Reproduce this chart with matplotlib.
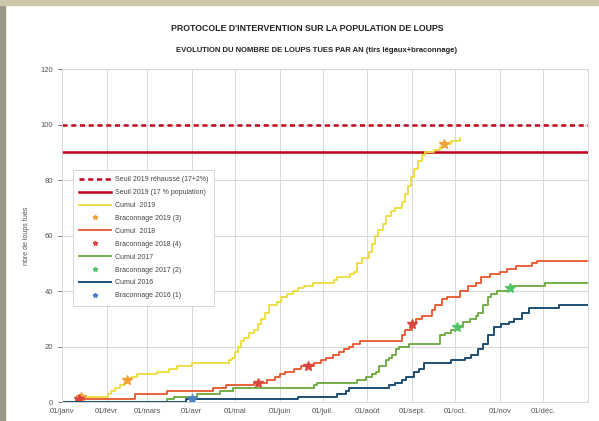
import matplotlib
matplotlib.use("Agg")
import matplotlib.pyplot as plt
from matplotlib.patches import Rectangle

plt.rcParams['font.family'] = ['Liberation Sans', 'DejaVu Sans']

# jours (0 = 1er janvier) et cumul de loups tués
jours_2019 = [0, 10, 32, 34, 37, 40, 43, 45, 48, 52, 66, 74, 80, 90, 116, 118, 120, 122, 124, 126,
              130, 133, 136, 138, 141, 144, 149, 152, 156, 160, 164, 168, 174, 189, 191, 200, 203,
              205, 208, 213, 215, 217, 219, 223, 225, 228, 231, 236, 238, 240, 242, 244, 247, 250,
              252, 258, 262, 265, 270, 276]
cumul_2019 = [0, 2, 3, 4, 5, 6, 7, 8, 9, 10, 11, 12, 13, 14, 15, 16, 18, 20, 22, 23,
              25, 26, 28, 30, 32, 35, 36, 38, 39, 40, 41, 42, 43, 44, 45, 46, 47,
              50, 52, 54, 57, 60, 62, 64, 67, 69, 70, 72, 75, 78, 81, 84, 87, 89,
              90, 91, 92, 93, 94, 95]

jours_2018 = [0, 10, 51, 73, 105, 114, 133, 142, 148, 151, 155, 161, 166, 175, 180, 183, 188, 192,
              196, 199, 202, 207, 236, 238, 243, 246, 250, 257, 259, 264, 267, 276, 282, 287,
              291, 297, 304, 309, 315, 326, 330, 365]
cumul_2018 = [0, 1, 3, 4, 5, 6, 7, 8, 9, 10, 11, 12, 13, 14, 15, 16, 17, 18,
              19, 20, 21, 22, 24, 26, 28, 30, 31, 33, 35, 37, 38, 40, 42, 43,
              45, 46, 47, 48, 49, 50, 51, 51]

jours_2017 = [0, 73, 78, 94, 110, 119, 175, 177, 205, 211, 215, 218, 220, 225, 227, 229, 232, 234,
              241, 262, 266, 270, 274, 278, 283, 287, 289, 292, 296, 298, 302, 310, 313, 335, 365]
cumul_2017 = [0, 1, 2, 3, 4, 5, 6, 7, 8, 9, 10, 11, 13, 15, 16, 17, 19, 20,
              21, 24, 25, 26, 27, 29, 30, 31, 32, 35, 38, 39, 40, 41, 42, 43, 43]

jours_2016 = [0, 86, 164, 191, 197, 199, 227, 231, 236, 239, 244, 248, 251, 270, 280, 284, 289,
              292, 296, 300, 305, 310, 314, 319, 324, 345, 365]
cumul_2016 = [0, 1, 2, 3, 4, 5, 6, 7, 8, 9, 11, 12, 14, 15, 16, 17, 19,
              21, 24, 27, 28, 29, 30, 32, 34, 35, 35]

# braconnage
brac_2019_j = [13, 45, 265]
brac_2019_v = [2, 8, 93]
brac_2018_j = [12, 136, 171, 243]
brac_2018_v = [1, 7, 13, 28]
brac_2017_j = [274, 311]
brac_2017_v = [27, 41]
brac_2016_j = [90]
brac_2016_v = [1]

seuil_rehausse = 100
seuil_2019 = 90

mois_pos = [0, 31, 59, 90, 120, 151, 181, 212, 243, 273, 304, 334]
mois_lab = ['01/janv', '01/févr', '01/mars', '01/avr', '01/mai', '01/juin', '01/juil.',
            '01/août', '01/sept.', '01/oct.', '01/nov', '01/déc.']

fig = plt.figure(figsize=(5.99, 4.21), dpi=100)
fig.patches.append(Rectangle((0, 0), 0.009, 1, transform=fig.transFigure, color='#9a968a', zorder=0))
fig.patches.append(Rectangle((0, 0.988), 1, 0.012, transform=fig.transFigure, color='#cfc7aa', zorder=0))

ax = fig.add_axes([0.1035, 0.045, 0.878, 0.791])

ax.axhline(seuil_rehausse, color='#c0001a', lw=1.8, ls=(0, (2, 1.5)), label='Seuil 2019 réhaussé (17+2%)')
ax.axhline(seuil_2019, color='#c0001a', lw=1.8, label='Seuil 2019 (17 % population)')

ax.plot(jours_2019, cumul_2019, drawstyle='steps-post', color='#eedc3a', lw=1.3, label='Cumul  2019')
ax.plot(brac_2019_j, brac_2019_v, ls='none', marker='*', ms=7, color='#f2a03a', label='Braconnage 2019 (3)')
ax.plot(jours_2018, cumul_2018, drawstyle='steps-post', color='#e8552b', lw=1.3, label='Cumul  2018')
ax.plot(brac_2018_j, brac_2018_v, ls='none', marker='*', ms=7, color='#d9453f', label='Braconnage 2018 (4)')
ax.plot(jours_2017, cumul_2017, drawstyle='steps-post', color='#6aa83a', lw=1.3, label='Cumul 2017')
ax.plot(brac_2017_j, brac_2017_v, ls='none', marker='*', ms=7, color='#52c46a', label='Braconnage 2017 (2)')
ax.plot(jours_2016, cumul_2016, drawstyle='steps-post', color='#1d4e76', lw=1.4, label='Cumul 2016')
ax.plot(brac_2016_j, brac_2016_v, ls='none', marker='*', ms=7, color='#4a80c4', label='Braconnage 2016 (1)')

ax.set_xlim(0, 365)
ax.set_ylim(0, 120)
ax.set_xticks(mois_pos)
ax.set_xticklabels(mois_lab)
ax.set_yticks(range(0, 121, 20))
ax.tick_params(labelsize=5.5, colors='#555555', length=3, width=0.6)
ax.tick_params(axis='x', length=0, pad=4)
ax.grid(True, color='#d8d8d8', lw=0.7)
ax.set_axisbelow(True)
for s in ax.spines.values():
    s.set_color('#d8d8d8')
    s.set_linewidth(0.7)

ax.set_ylabel('nbre de loups tués', fontsize=5, color='#555555', labelpad=12)
ax.yaxis.set_label_coords(-0.061, 0.5)

fig.text(0.513, 0.933, "PROTOCOLE D'INTERVENTION SUR LA POPULATION DE LOUPS",
         ha='center', va='center', fontsize=6.3, fontweight='bold', color='#222222')
fig.text(0.528, 0.881, "EVOLUTION DU NOMBRE DE LOUPS TUES PAR AN (tirs légaux+braconnage)",
         ha='center', va='center', fontsize=5.5, fontweight='bold', color='#222222')

leg = ax.legend(loc='upper left', bbox_to_anchor=(0.021, 0.697), borderaxespad=0,
                fontsize=5, handlelength=4.6, labelspacing=0.85, markerscale=0.5,
                numpoints=1, fancybox=False, framealpha=1, edgecolor='#d0d0d0',
                borderpad=0.9, handletextpad=0.5)
leg.get_frame().set_linewidth(0.6)
for t in leg.get_texts():
    t.set_color('#444444')

fig.savefig('out.png', dpi=100)
